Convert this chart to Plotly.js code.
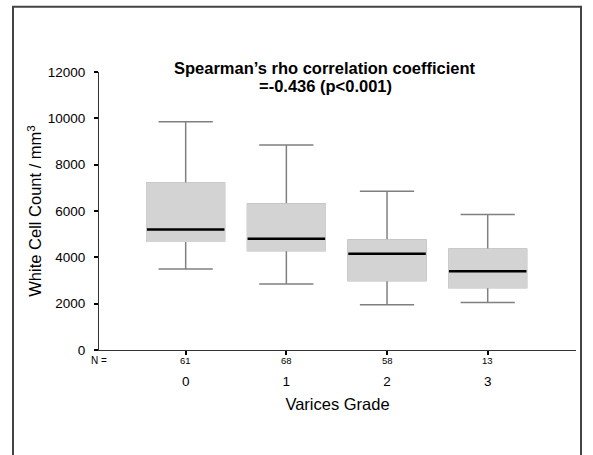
<!DOCTYPE html>
<html>
<head>
<meta charset="utf-8">
<script src="https://cdn.plot.ly/plotly-3.0.1.min.js"></script>
<style>html,body{margin:0;padding:0;background:#fff;}#chart{width:593px;height:455px;}</style>
</head>
<body>
<div id="chart"></div>
<script>
// Data
const grades = ['0', '1', '2', '3'];
const gradePos = [0, 1, 2, 3];
const nCounts = ['61', '68', '58', '13'];
const lowerWhisker = [3500, 2850, 1950, 2050];
const q1 = [4700, 4300, 3000, 2700];
const median = [5200, 4800, 4150, 3400];
const q3 = [7200, 6300, 4750, 4350];
const upperWhisker = [9850, 8850, 6850, 5850];
const yTicks = [0, 2000, 4000, 6000, 8000, 10000, 12000];
const yTickText = ['0', '2000', '4000', '6000', '8000', '10000', '12000'];

const BOX_W = 0.77;
const FILL = '#d3d3d3';
const FONT = 'Liberation Sans, Arial, Helvetica, sans-serif';

// Median segments built from the data
const medX = [], medY = [];
gradePos.forEach((p, i) => {
  medX.push(p - BOX_W / 2, p + BOX_W / 2, null);
  medY.push(median[i], median[i], null);
});

const traces = [
  {
    type: 'box', x: gradePos, q1: q1, median: median, q3: q3,
    lowerfence: lowerWhisker, upperfence: upperWhisker,
    width: BOX_W, whiskerwidth: 0.7, boxpoints: false,
    fillcolor: FILL, line: {color: '#808080', width: 1.5},
    hoverinfo: 'skip', showlegend: false
  },
  {
    type: 'box', x: gradePos, q1: q1, median: median, q3: q3,
    lowerfence: q1, upperfence: q3,
    width: BOX_W, whiskerwidth: 0, boxpoints: false,
    fillcolor: FILL, line: {color: FILL, width: 1.6},
    hoverinfo: 'skip', showlegend: false
  },
  {
    type: 'scatter', mode: 'lines', x: medX, y: medY,
    line: {color: '#000', width: 2.5}, hoverinfo: 'skip', showlegend: false
  }
];

const annotations = [
  {text: '<b>Spearman’s rho correlation coefficient</b>', xref: 'paper', yref: 'paper',
   x: 0.474, y: 1.016, xanchor: 'center', yanchor: 'middle', showarrow: false,
   font: {family: FONT, size: 16.5, color: '#000'}},
  {text: '<b>=-0.436 (p&lt;0.001)</b>', xref: 'paper', yref: 'paper',
   x: 0.474, y: 0.950, xanchor: 'center', yanchor: 'middle', showarrow: false,
   font: {family: FONT, size: 16.5, color: '#000'}},
  {text: 'N =', xref: 'paper', yref: 'paper', x: 0, y: -0.036,
   xanchor: 'center', yanchor: 'middle', showarrow: false,
   font: {family: FONT, size: 10, color: '#000'}}
];
nCounts.forEach((n, i) => {
  annotations.push({text: n, xref: 'x', yref: 'paper', x: gradePos[i], y: -0.036,
    xanchor: 'center', yanchor: 'middle', showarrow: false,
    font: {family: FONT, size: 9.5, color: '#000'}});
});

const layout = {
  width: 593, height: 455,
  margin: {l: 99, r: 17, t: 72, b: 105},
  paper_bgcolor: '#fff', plot_bgcolor: '#fff',
  boxmode: 'overlay',
  font: {family: FONT, color: '#000'},
  xaxis: {
    type: 'linear', range: [-0.861, 3.877],
    tickvals: gradePos, ticktext: grades,
    ticks: 'outside', ticklen: 4, tickwidth: 2, tickcolor: '#000',
    ticklabelstandoff: 15,
    showline: true, linecolor: '#333', linewidth: 1,
    showgrid: false, zeroline: false, fixedrange: true,
    tickfont: {family: FONT, size: 13.5, color: '#000'},
    title: {text: 'Varices Grade', font: {family: FONT, size: 16.5, color: '#000'}}
  },
  yaxis: {
    range: [0, 12000], tickvals: yTicks, ticktext: yTickText,
    ticks: 'outside', ticklen: 4, tickwidth: 2, tickcolor: '#000',
    ticklabelstandoff: 6,
    showline: true, linecolor: '#333', linewidth: 1,
    showgrid: false, zeroline: false, fixedrange: true,
    tickfont: {family: FONT, size: 13.5, color: '#000'},
    title: {text: 'White Cell Count / mm<sup>3</sup>', standoff: 1,
            font: {family: FONT, size: 16.5, color: '#000'}}
  },
  annotations: annotations,
  shapes: [{
    type: 'rect', xref: 'paper', yref: 'paper',
    x0: -0.1803, x1: 1.0105, y0: -0.42, y1: 1.2349,
    line: {color: '#444', width: 2}, fillcolor: 'rgba(0,0,0,0)', layer: 'above'
  }]
};

Plotly.newPlot('chart', traces, layout, {displayModeBar: false, staticPlot: true});
</script>
</body>
</html>
